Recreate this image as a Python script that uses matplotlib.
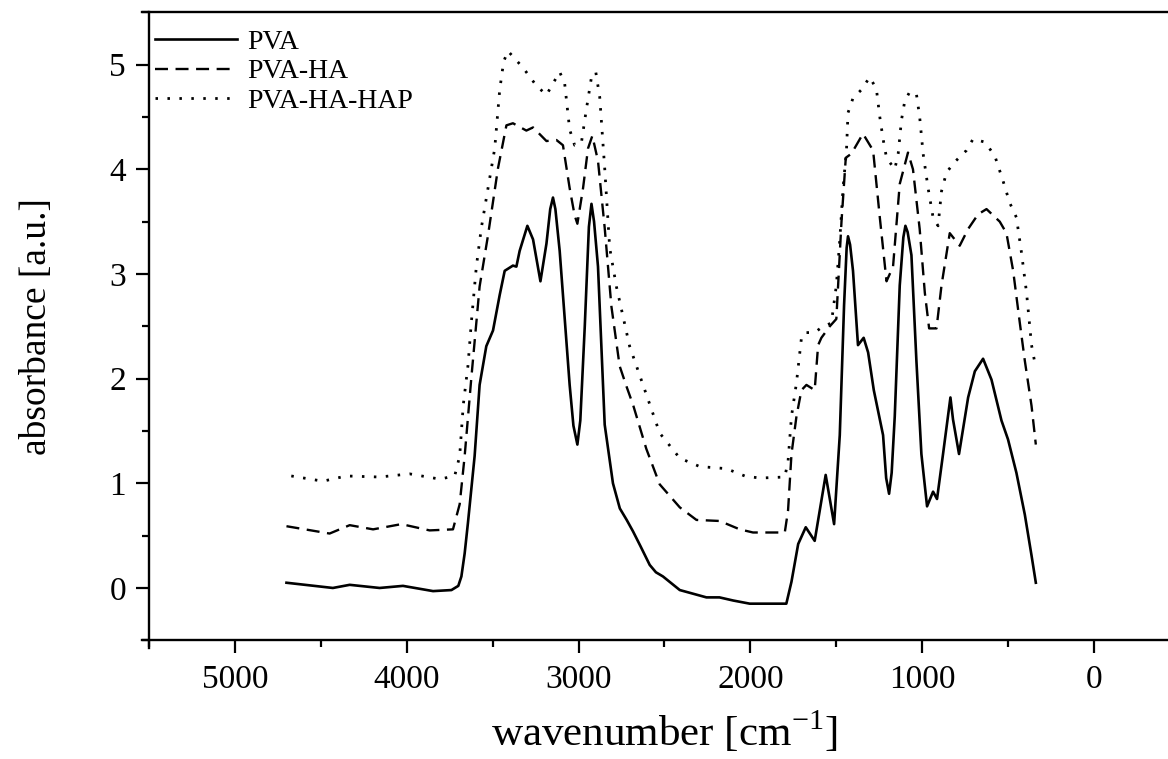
import matplotlib
matplotlib.use("Agg")
import matplotlib.pyplot as plt
from matplotlib.ticker import MultipleLocator

# ---------------- data ----------------
pva_wn = [4700, 4430, 4332, 4158, 4022, 3847, 3740, 3700, 3682, 3663, 3644, 3605, 3576,
          3537, 3498, 3459, 3430, 3382, 3362, 3343, 3298, 3265, 3222, 3187, 3165, 3149,
          3135, 3110, 3052, 3030, 3007, 2990, 2964, 2940, 2925, 2910, 2887, 2848, 2800,
          2760, 2720, 2683, 2640, 2586, 2550, 2509, 2411, 2256, 2180, 2100, 2004, 1791,
          1761, 1722, 1678, 1626,
          1562, 1513, 1480, 1455, 1440, 1432, 1420, 1403, 1374, 1341, 1315, 1282, 1228,
          1210, 1193, 1178, 1160, 1131, 1110, 1098, 1085, 1063, 1034, 1005, 972, 937,
          914, 879, 836, 821, 786, 733, 694, 646, 597, 539, 501, 452, 403, 364, 339]
pva_abs = [0.05, 0.00, 0.03, 0.00, 0.02, -0.03, -0.02, 0.02, 0.11, 0.33, 0.62, 1.26, 1.94,
           2.31, 2.46, 2.80, 3.03, 3.08, 3.07, 3.22, 3.46, 3.33, 2.93, 3.29, 3.62, 3.73,
           3.62, 3.22, 1.94, 1.55, 1.37, 1.60, 2.50, 3.45, 3.67, 3.50, 3.07, 1.56, 1.00,
           0.76, 0.65, 0.54, 0.40, 0.22, 0.15, 0.11, -0.02, -0.09, -0.09, -0.12, -0.15, -0.15,
           0.06, 0.42, 0.58, 0.45,
           1.08, 0.61, 1.46, 2.70, 3.25, 3.36, 3.28, 3.03, 2.32, 2.39, 2.25, 1.89, 1.46,
           1.05, 0.90, 1.10, 1.64, 2.89, 3.35, 3.46, 3.40, 3.18, 2.17, 1.28, 0.78, 0.92,
           0.85, 1.28, 1.82, 1.61, 1.28, 1.82, 2.07, 2.19, 1.99, 1.60, 1.42, 1.10, 0.70, 0.31, 0.05]

ha_wn = [4700, 4449, 4332, 4196, 4031, 3867, 3731, 3692, 3663, 3624, 3576, 3527, 3469,
         3420, 3382, 3304, 3265, 3187, 3129, 3091, 3052, 3023, 3007, 2974, 2945, 2920,
         2887, 2848, 2809, 2761, 2720, 2683, 2606, 2528, 2411, 2314, 2179, 2062, 1985, 1800,
         1781, 1761, 1732, 1703, 1674, 1626, 1606, 1587, 1538, 1500, 1470, 1445, 1412,
         1345, 1286, 1247, 1208, 1170, 1131, 1083, 1054, 1015, 985, 960, 917, 888, 840,
         782, 733, 675, 626, 549, 510, 471, 432, 403, 364, 339]
ha_abs = [0.59, 0.52, 0.60, 0.56, 0.61, 0.55, 0.56, 0.80, 1.26, 2.01, 2.88, 3.37, 4.01,
          4.42, 4.44, 4.37, 4.40, 4.27, 4.28, 4.23, 3.82, 3.56, 3.48, 3.82, 4.20, 4.32,
          4.08, 3.44, 2.69, 2.12, 1.92, 1.75, 1.33, 0.99, 0.77, 0.65, 0.64, 0.56, 0.53, 0.53,
          0.74, 1.28, 1.64, 1.89, 1.94, 1.89, 2.32, 2.39, 2.50, 2.57, 3.50, 4.11, 4.15,
          4.34, 4.18, 3.54, 2.93, 3.07, 3.86, 4.16, 4.00, 3.43, 2.82, 2.48, 2.48, 2.89, 3.39,
          3.27, 3.43, 3.57, 3.62, 3.50, 3.39, 3.03, 2.53, 2.17, 1.74, 1.37]

hap_wn = [4672, 4488, 4352, 4158, 3983, 3808, 3721, 3692, 3671, 3644, 3624, 3595, 3566,
          3527, 3488, 3459, 3436, 3411, 3323, 3246, 3187, 3149, 3110, 3081, 3052, 3023,
          2984, 2955, 2925, 2900, 2877, 2848, 2819, 2780, 2703, 2625, 2528, 2411, 2295,
          2140, 2033, 1946, 1800, 1781, 1761, 1732, 1703, 1684, 1626, 1577, 1529, 1500,
          1480, 1461, 1441, 1432, 1403, 1354, 1306, 1267, 1247, 1228, 1208, 1160, 1140,
          1121, 1102, 1073, 1034, 1015, 995, 966, 937, 908, 888, 859, 811, 743, 704, 636,
          578, 530, 491, 452, 423, 393, 364, 339]
hap_abs = [1.07, 1.02, 1.07, 1.06, 1.09, 1.04, 1.07, 1.26, 1.75, 2.12, 2.54, 3.07, 3.44,
           3.82, 4.20, 4.76, 5.03, 5.13, 4.97, 4.80, 4.71, 4.82, 4.93, 4.82, 4.38, 4.23,
           4.25, 4.57, 4.88, 4.93, 4.69, 4.01, 3.25, 2.88, 2.31, 1.94, 1.48, 1.24, 1.16,
           1.14, 1.07, 1.05, 1.06, 1.21, 1.64, 1.96, 2.39, 2.44, 2.44, 2.50, 2.53, 2.89,
           3.32, 3.82, 4.18, 4.54, 4.68, 4.76, 4.88, 4.77, 4.50, 4.29, 4.11, 4.00, 4.15,
           4.47, 4.65, 4.74, 4.72, 4.50, 4.15, 3.82, 3.54, 3.46, 3.79, 3.97, 4.07, 4.18, 4.29, 4.26,
           4.13, 3.89, 3.68, 3.54, 3.21, 2.82, 2.32, 2.10]

labels = ["PVA", "PVA-HA", "PVA-HA-HAP"]
x_ticks = [5000, 4000, 3000, 2000, 1000, 0]
y_ticks = [0, 1, 2, 3, 4, 5]

# ---------------- style ----------------
plt.rcParams["font.family"] = ["Liberation Serif", "DejaVu Serif"]
plt.rcParams["mathtext.fontset"] = "custom"
plt.rcParams["mathtext.rm"] = "Liberation Serif"

fig = plt.figure(figsize=(11.68, 7.59), dpi=100)
ax = fig.add_axes([149 / 1168, 1 - 640.3 / 759, (1180 - 149) / 1168, (640.3 - 12.3) / 759])

ax.plot(pva_wn, pva_abs, color="black", lw=1.9, ls="-", label=labels[0])
ax.plot(ha_wn, ha_abs, color="black", lw=1.7, ls=(0, (5.5, 3.2)), label=labels[1])
ax.plot(hap_wn, hap_abs, color="black", lw=2.0, ls=(0, (0.9, 3.4)), label=labels[2])

ax.set_xlim(5500, -500)
ax.set_ylim(-0.5, 5.5)
ax.set_xticks(x_ticks)
ax.set_yticks(y_ticks)
ax.xaxis.set_minor_locator(MultipleLocator(500))
ax.yaxis.set_minor_locator(MultipleLocator(0.5))

for s in ["left", "bottom", "top"]:
    ax.spines[s].set_linewidth(1.7)
ax.spines["right"].set_visible(False)
# Origin-style slight overshoot of the frame lines at the left corners
ax.spines["bottom"].set_bounds(5540, -500)
ax.spines["top"].set_bounds(5540, -500)
ax.spines["left"].set_bounds(-0.57, 5.5)

ax.tick_params(axis="both", which="major", direction="out", length=9.5, width=1.6,
               labelsize=24, top=False, right=False)
ax.tick_params(axis="both", which="minor", direction="out", length=5, width=1.6,
               top=False, right=False)
ax.tick_params(axis="x", which="major", pad=8)
ax.tick_params(axis="y", which="major", pad=7)

ax.set_xlabel("wavenumber [cm$^{\\mathregular{-1}}$]", fontsize=31, labelpad=10)
ax.set_ylabel("absorbance [a.u.]", fontsize=27, labelpad=40)

ax.legend(loc="upper left", bbox_to_anchor=(0.0058, 0.9725), frameon=False, fontsize=20,
          handlelength=2.95, handletextpad=0.36, labelspacing=0.14, borderpad=0.0,
          borderaxespad=0.0)

fig.savefig("out.png", dpi=100)
